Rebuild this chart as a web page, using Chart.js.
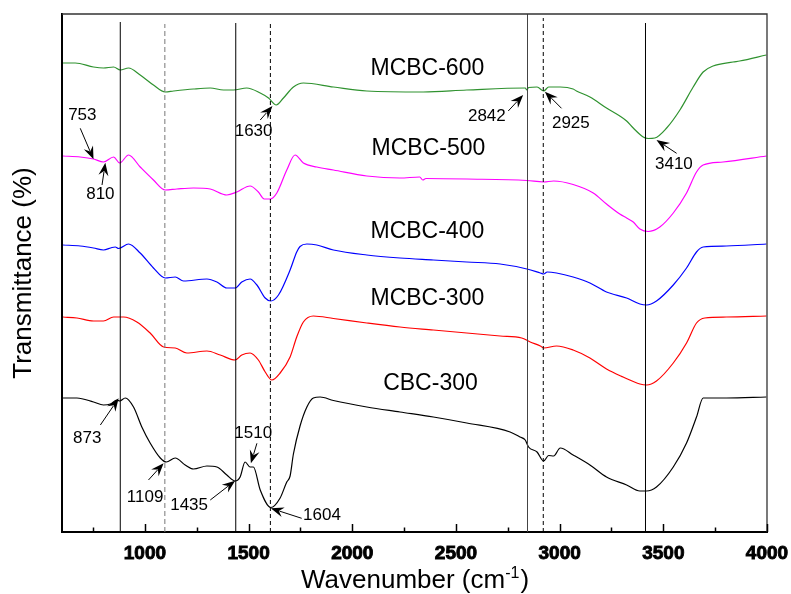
<!DOCTYPE html>
<html>
<head>
<meta charset="utf-8">
<script src="https://cdn.jsdelivr.net/npm/chart.js@4.4.0/dist/chart.umd.min.js"></script>
<style>
  html, body { margin: 0; padding: 0; background: #fff; }
  #wrap { width: 791px; height: 594px; }
</style>
</head>
<body>
<div id="wrap"><canvas id="ftirChart" width="791" height="594"></canvas></div>
<script>
// FTIR spectra, offset curves (arbitrary transmittance units)
const greenWn = [605, 664, 752, 800, 849, 881, 921, 977, 1041, 1098, 1138, 1234, 1315, 1379, 1427, 1491, 1556, 1596, 1633, 1668, 1716, 1764, 1909, 2070, 2342, 2552, 2834, 2842, 2850, 2891, 2923, 2947, 3003, 3065, 3081, 3146, 3226, 3290, 3323, 3355, 3403, 3427, 3459, 3516, 3580, 3644, 3692, 3740, 3836, 3868, 3997];
const greenT = [469, 469, 465, 464, 465, 462, 464, 457, 447, 440, 441, 443, 444, 442, 442, 444, 439, 434, 427, 434, 445, 449, 445, 441, 440, 442, 444, 442, 444.5, 445, 441, 445, 445, 443, 441, 435, 424, 416, 411, 404, 395, 393.5, 394, 404, 422, 445, 460, 466, 470, 471, 477];

const magentaWn = [605, 688, 752, 800, 849, 878, 921, 977, 1041, 1098, 1154, 1234, 1315, 1395, 1443, 1507, 1547, 1575, 1604, 1636, 1684, 1724, 1764, 1829, 1909, 2070, 2230, 2325, 2340, 2355, 2552, 2842, 2923, 2971, 3065, 3162, 3226, 3290, 3323, 3355, 3387, 3427, 3483, 3548, 3612, 3660, 3692, 3788, 3997];
const magentaT = [376, 375, 373, 370, 375, 369, 377, 365, 352, 342, 343, 344, 343, 337, 340, 346, 340, 333, 333, 339, 362, 377, 369, 365, 362, 356, 354, 355, 352, 353.5, 353, 351.5, 350, 351, 347.5, 339, 328, 318, 314, 310, 303, 300.5, 305, 319, 339, 360, 367, 370, 376];

const blueWn = [605, 688, 752, 800, 841, 857, 873, 921, 977, 1041, 1098, 1146, 1186, 1299, 1347, 1395, 1435, 1467, 1507, 1540, 1580, 1607, 1644, 1700, 1732, 1748, 1781, 1829, 1909, 2070, 2230, 2391, 2552, 2713, 2842, 2907, 2923, 2940, 2985, 3065, 3146, 3226, 3323, 3387, 3419, 3467, 3548, 3612, 3660, 3692, 3804, 3997];
const blueT = [287, 286, 284, 282, 284.5, 285, 283.5, 288, 279, 264, 254, 255, 251, 253, 250, 244, 244, 250, 253, 247, 234, 231, 237, 262, 280, 285.5, 288, 287, 282, 277, 274, 272, 270, 268, 263, 259, 258, 260, 259, 255, 249, 240, 234, 228, 227, 231, 247, 264, 280, 285, 286, 288];

const redWn = [605, 672, 752, 800, 849, 897, 961, 1025, 1090, 1146, 1202, 1299, 1363, 1435, 1467, 1507, 1547, 1580, 1612, 1652, 1700, 1732, 1764, 1812, 1909, 2070, 2230, 2391, 2552, 2713, 2817, 2858, 2907, 2923, 2985, 3065, 3146, 3226, 3306, 3387, 3419, 3467, 3548, 3612, 3660, 3700, 3804, 3997];
const redT = [215, 214, 211, 211, 215, 215, 210, 199, 185, 184, 179, 181, 177, 172, 177, 179, 172, 160, 152, 159, 175, 195, 210, 216, 213.5, 209, 205, 202, 199, 196, 194, 190, 186, 184, 186, 182, 174, 163, 155, 148, 147, 151, 169, 189, 209, 214, 215, 216];

const blackWn = [605, 672, 752, 800, 833, 865, 878, 905, 945, 985, 1025, 1074, 1103, 1146, 1194, 1234, 1299, 1347, 1395, 1435, 1459, 1483, 1507, 1523, 1556, 1607, 1652, 1684, 1700, 1716, 1748, 1781, 1812, 1845, 1909, 2070, 2230, 2391, 2552, 2761, 2809, 2834, 2850, 2891, 2923, 2947, 2971, 3003, 3065, 3146, 3226, 3323, 3387, 3419, 3467, 3548, 3612, 3660, 3692, 3804, 3997];
const blackT = [134, 134, 130, 127, 128, 132, 131, 134, 125, 105, 89, 74, 70, 74, 67, 63, 66, 65, 57, 51, 55, 70, 65, 65, 42, 24.5, 34, 50, 56, 78, 106, 125, 134, 135, 131.5, 125, 120, 115, 109, 100, 95, 92, 85, 80, 71, 76.5, 76, 84, 77, 67, 55, 47, 41, 41, 45, 65, 89, 115, 134, 134, 135];

const seriesNames = ['MCBC-600', 'MCBC-500', 'MCBC-400', 'MCBC-300', 'CBC-300'];
const seriesLabelWn = [2362, 2367, 2362, 2362, 2377];
const seriesLabelT = [463.7, 383.3, 300.7, 233.3, 148.3];

// reference lines at band positions
const markerWn = [881, 1096, 1438, 1605, 2845, 2921, 3414];
const markerTop = [510, 508, 509, 509, 518, 514, 509];

// peak labels: text position, arrow tail, arrow head
const peakText = ['753', '810', '1630', '2842', '2925', '3410', '873', '1109', '1435', '1510', '1604'];
const peakTextWn = [698, 785, 1524, 2649, 3054, 3551, 722, 1001, 1213, 1522, 1854];
const peakTextT = [417, 338, 401, 416, 409, 368, 94, 35, 27, 99, 17];
const tailWn = [688, 793, 1556, 2752, 3009, 3564, 785, 1017, 1315, 1540, 1756];
const tailT = [403.7, 347, 412, 421, 423.7, 378.7, 107, 52, 32, 88.7, 13.7];
const headWn = [752, 809, 1615, 2824, 2929, 3467, 873, 1090, 1435, 1511, 1607];
const headT = [372.7, 369.3, 426, 437, 440.3, 392, 133.7, 68.7, 51.3, 68.7, 23.7];

const xTickValues = [1000, 1500, 2000, 2500, 3000, 3500, 4000];
const xMinorValues = [750, 1250, 1750, 2250, 2750, 3250, 3750];

const fontFamily = "'Liberation Sans', Arial, sans-serif";

function toPoints(xs, ys) {
    return xs.map((x, i) => ({ x: x, y: ys[i] }));
}

function drawArrow(ctx, x0, y0, x1, y1) {
    const ang = Math.atan2(y1 - y0, x1 - x0);
    const c = Math.cos(ang), s = Math.sin(ang);
    const L = 13, W = 5;
    ctx.beginPath();
    ctx.moveTo(x0, y0);
    ctx.lineTo(x1 - L * 0.7 * c, y1 - L * 0.7 * s);
    ctx.stroke();
    ctx.beginPath();
    ctx.moveTo(x1, y1);
    ctx.lineTo(x1 - L * c + W * s, y1 - L * s - W * c);
    ctx.lineTo(x1 - L * 0.65 * c, y1 - L * 0.65 * s);
    ctx.lineTo(x1 - L * c - W * s, y1 - L * s + W * c);
    ctx.closePath();
    ctx.fill();
}

// Extra drawing: frame, inward ticks, labels, arrows, x title
const decorPlugin = {
    id: 'decor',
    afterDatasetsDraw(chart) {
        const ctx = chart.ctx;
        const xs = chart.scales.x;
        const ys = chart.scales.y;
        const area = chart.chartArea;
        ctx.save();

        // top and right frame
        ctx.strokeStyle = '#333';
        ctx.lineWidth = 1.3;
        ctx.beginPath();
        ctx.moveTo(area.left, area.top);
        ctx.lineTo(area.right, area.top);
        ctx.lineTo(area.right, area.bottom);
        ctx.stroke();

        // inward tick marks
        ctx.strokeStyle = '#000';
        ctx.lineWidth = 1.5;
        xTickValues.forEach(v => {
            const px = Math.round(xs.getPixelForValue(v)) + 0.5;
            ctx.beginPath();
            ctx.moveTo(px, area.bottom);
            ctx.lineTo(px, area.bottom - 8);
            ctx.stroke();
        });
        xMinorValues.forEach(v => {
            const px = Math.round(xs.getPixelForValue(v)) + 0.5;
            ctx.beginPath();
            ctx.moveTo(px, area.bottom);
            ctx.lineTo(px, area.bottom - 4.5);
            ctx.stroke();
        });

        // series names
        ctx.fillStyle = '#000';
        ctx.textAlign = 'center';
        ctx.textBaseline = 'middle';
        ctx.font = '23px ' + fontFamily;
        seriesNames.forEach((name, i) => {
            ctx.fillText(name, xs.getPixelForValue(seriesLabelWn[i]), ys.getPixelForValue(seriesLabelT[i]));
        });

        // peak labels with arrows
        ctx.font = '17px ' + fontFamily;
        ctx.lineWidth = 1;
        ctx.strokeStyle = '#000';
        peakText.forEach((t, i) => {
            ctx.fillText(t, xs.getPixelForValue(peakTextWn[i]), ys.getPixelForValue(peakTextT[i]));
            drawArrow(ctx,
                xs.getPixelForValue(tailWn[i]), ys.getPixelForValue(tailT[i]),
                xs.getPixelForValue(headWn[i]), ys.getPixelForValue(headT[i]));
        });

        // x axis title with superscript
        const main = 'Wavenumber (cm';
        const sup = '-1';
        const close = ')';
        ctx.font = '26px ' + fontFamily;
        const wMain = ctx.measureText(main).width;
        const wClose = ctx.measureText(close).width;
        ctx.font = '16px ' + fontFamily;
        const wSup = ctx.measureText(sup).width;
        const total = wMain + wSup + wClose + 1;
        const cx = 415;
        let x = cx - total / 2;
        const base = 588;
        ctx.textAlign = 'left';
        ctx.textBaseline = 'alphabetic';
        ctx.font = '26px ' + fontFamily;
        ctx.fillText(main, x, base);
        x += wMain;
        ctx.font = '16px ' + fontFamily;
        ctx.fillText(sup, x, base - 10);
        x += wSup + 1;
        ctx.font = '26px ' + fontFamily;
        ctx.fillText(close, x, base);

        ctx.restore();
    }
};

const seriesData = [
    { wn: greenWn, t: greenT, color: '#2f922f' },
    { wn: magentaWn, t: magentaT, color: '#ff00ff' },
    { wn: blueWn, t: blueT, color: '#0000ff' },
    { wn: redWn, t: redT, color: '#ff0000' },
    { wn: blackWn, t: blackT, color: '#000000' }
];

const markerStyle = [
    { color: '#000', dash: [] },
    { color: '#777', dash: [5, 3] },
    { color: '#000', dash: [] },
    { color: '#000', dash: [4, 3] },
    { color: '#444', dash: [] },
    { color: '#000', dash: [4, 3] },
    { color: '#000', dash: [] }
];

const datasets = [];
markerWn.forEach((wn, i) => {
    datasets.push({
        label: 'line ' + wn,
        data: [{ x: wn, y: 0 }, { x: wn, y: markerTop[i] }],
        borderColor: markerStyle[i].color,
        borderDash: markerStyle[i].dash,
        borderWidth: 1,
        pointRadius: 0
    });
});
seriesData.forEach((s, i) => {
    datasets.push({
        label: seriesNames[i],
        data: toPoints(s.wn, s.t),
        borderColor: s.color,
        borderWidth: 1.2,
        pointRadius: 0,
        tension: 0.25,
        cubicInterpolationMode: 'monotone'
    });
});

const ctx = document.getElementById('ftirChart').getContext('2d');
const ftirChart = new Chart(ctx, {
    type: 'line',
    data: { datasets: datasets },
    options: {
        responsive: false,
        animation: false,
        devicePixelRatio: 1,
        layout: {
            autoPadding: false,
            padding: { top: 14, right: 24, left: 0, bottom: 0 }
        },
        plugins: {
            legend: { display: false },
            tooltip: { enabled: false }
        },
        scales: {
            x: {
                type: 'linear',
                min: 600,
                max: 4000,
                afterBuildTicks: (scale) => {
                    scale.ticks = xTickValues.map(v => ({ value: v }));
                },
                afterFit: (scale) => {
                    scale.height = 62;
                    scale.paddingLeft = 0;
                    scale.paddingRight = 0;
                },
                grid: { display: false, drawTicks: false },
                border: { display: true, color: '#000', width: 2 },
                ticks: {
                    padding: 10,
                    color: '#000',
                    maxRotation: 0,
                    autoSkip: false,
                    textStrokeColor: '#000',
                    textStrokeWidth: 0.9,
                    callback: (value) => String(value),
                    font: { family: 'Arial, "Liberation Sans", sans-serif', size: 19, weight: 'bold' }
                },
                title: { display: false }
            },
            y: {
                min: 0,
                max: 518,
                afterFit: (scale) => {
                    scale.width = 62;
                    scale.paddingTop = 0;
                    scale.paddingBottom = 0;
                },
                grid: { display: false, drawTicks: false },
                border: { display: true, color: '#000', width: 2 },
                ticks: { display: false },
                title: {
                    display: true,
                    text: 'Transmittance (%)',
                    color: '#000',
                    padding: { top: 8, bottom: 0 },
                    font: { family: fontFamily, size: 26 }
                }
            }
        }
    },
    plugins: [decorPlugin]
});
</script>
</body>
</html>
